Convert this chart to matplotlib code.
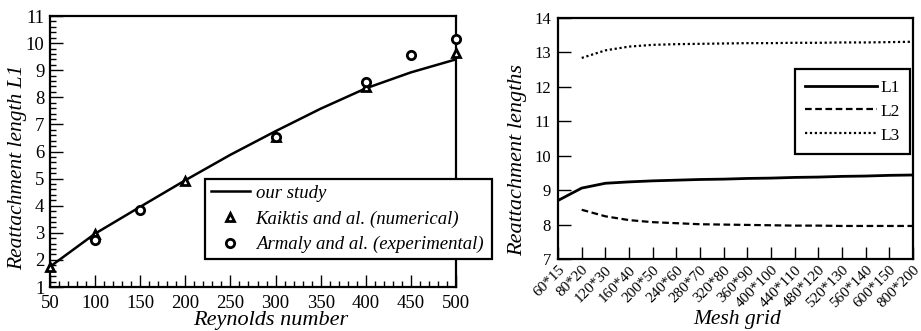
import matplotlib.pyplot as plt
from matplotlib.ticker import MultipleLocator

plt.rcParams["font.family"] = ["Liberation Serif", "DejaVu Serif"]

# Reattachment length L1 versus Reynolds number
re_study = [50, 100, 150, 200, 250, 300, 350, 400, 450, 500]
l1_study = [1.75, 2.97, 3.96, 4.94, 5.88, 6.75, 7.58, 8.33, 8.92, 9.40]

re_kaiktis = [50, 100, 200, 300, 400, 500]
l1_kaiktis = [1.72, 2.95, 4.92, 6.55, 8.38, 9.62]

re_armaly = [100, 150, 300, 400, 450, 500]
l1_armaly = [2.75, 3.86, 6.52, 8.57, 9.56, 10.17]

# Mesh convergence of the three reattachment lengths
meshes = ["60*15", "80*20", "120*30", "160*40", "200*50", "240*60", "280*70",
          "320*80", "360*90", "400*100", "440*110", "480*120", "520*130",
          "560*140", "600*150", "800*200"]
L1 = [8.70, 9.06, 9.20, 9.24, 9.27, 9.29, 9.31, 9.32, 9.34, 9.35, 9.37,
      9.38, 9.40, 9.41, 9.43, 9.44]
L2 = [None, 8.43, 8.24, 8.13, 8.07, 8.04, 8.01, 8.00, 7.99, 7.98, 7.97,
      7.97, 7.96, 7.96, 7.96, 7.96]
L3 = [None, 12.84, 13.06, 13.17, 13.22, 13.24, 13.25, 13.26, 13.27, 13.27,
      13.28, 13.28, 13.29, 13.29, 13.30, 13.31]

fig = plt.figure(figsize=(9.21, 3.31), dpi=100)

# ---- left panel ----
ax1 = fig.add_axes([0.0543, 0.1329, 0.4408, 0.8187])
ax1.plot(re_study, l1_study, color="black", lw=1.8, label="our study")
ax1.plot(re_kaiktis, l1_kaiktis, ls="none", marker="^", ms=6,
         mfc="white", mec="black", mew=2, label="Kaiktis and al. (numerical)",
         clip_on=False, zorder=3)
ax1.plot(re_armaly, l1_armaly, ls="none", marker="o", ms=6,
         mfc="white", mec="black", mew=2,
         label="Armaly and al. (experimental)", clip_on=False, zorder=3)
ax1.set_xlim(50, 500)
ax1.set_ylim(1, 11)
ax1.xaxis.set_major_locator(MultipleLocator(50))
ax1.xaxis.set_minor_locator(MultipleLocator(10))
ax1.yaxis.set_major_locator(MultipleLocator(1))
ax1.yaxis.set_minor_locator(MultipleLocator(0.2))
ax1.tick_params(which="both", direction="in", width=1, labelsize=13.5)
ax1.tick_params(axis="x", pad=6)
ax1.tick_params(axis="y", pad=4)
ax1.tick_params(which="major", length=9)
ax1.tick_params(which="minor", length=4.5)
ax1.set_xlabel("Reynolds number", fontsize=16, style="italic")
ax1.set_ylabel("Reattachment length L1", fontsize=15.5, style="italic")
ax1.xaxis.set_label_coords(0.544, -0.09)
ax1.yaxis.set_label_coords(-0.056, 0.44)
for s in ax1.spines.values():
    s.set_linewidth(1.6)

leg1 = ax1.legend(loc="lower left", mode="expand", borderaxespad=0,
                  bbox_to_anchor=(0.2226, 0.2175, 0.3116, 0.2508),
                  bbox_transform=fig.transFigure, frameon=True,
                  fancybox=False, framealpha=1, edgecolor="black",
                  handlelength=2.1, handletextpad=0.3, labelspacing=0.45,
                  borderpad=0.3, prop={"size": 13.5, "style": "italic"})
leg1.get_frame().set_linewidth(1.6)

# ---- right panel ----
ax2 = fig.add_axes([0.6059, 0.2175, 0.3855, 0.7281])
xpos = list(range(len(meshes)))
ax2.plot(xpos, L1, color="black", lw=2, ls="-", label="L1")
ax2.plot(xpos, [v if v is not None else float("nan") for v in L2],
         color="black", lw=1.6, ls=(0, (3, 1.6)), label="L2")
ax2.plot(xpos, [v if v is not None else float("nan") for v in L3],
         color="black", lw=1.6, ls=(0, (1, 1.2)), label="L3")
ax2.set_xlim(0, len(meshes) - 1)
ax2.set_ylim(7, 14)
ax2.set_xticks(xpos)
ax2.set_xticklabels(meshes, rotation=45, ha="right", rotation_mode="anchor",
                    fontsize=11)
ax2.yaxis.set_major_locator(MultipleLocator(1))
ax2.tick_params(which="both", direction="in", width=1, length=9)
ax2.tick_params(axis="y", labelsize=12, pad=5)
ax2.tick_params(axis="x", pad=3)
ax2.set_xlabel("Mesh grid", fontsize=15.5, style="italic")
ax2.set_ylabel("Reattachment lengths", fontsize=16, style="italic")
ax2.xaxis.set_label_coords(0.504, -0.212)
ax2.yaxis.set_label_coords(-0.086, 0.41)
for s in ax2.spines.values():
    s.set_linewidth(1.6)

leg2 = ax2.legend(loc="upper left", bbox_to_anchor=(0.8632, 0.7915),
                  bbox_transform=fig.transFigure, borderaxespad=0,
                  frameon=True, fancybox=False, framealpha=1,
                  edgecolor="black", handlelength=4.1, handletextpad=0.2,
                  labelspacing=0.45, borderpad=0.6, fontsize=12.5)
leg2.get_frame().set_linewidth(1.6)

fig.savefig("out.png", dpi=100)
